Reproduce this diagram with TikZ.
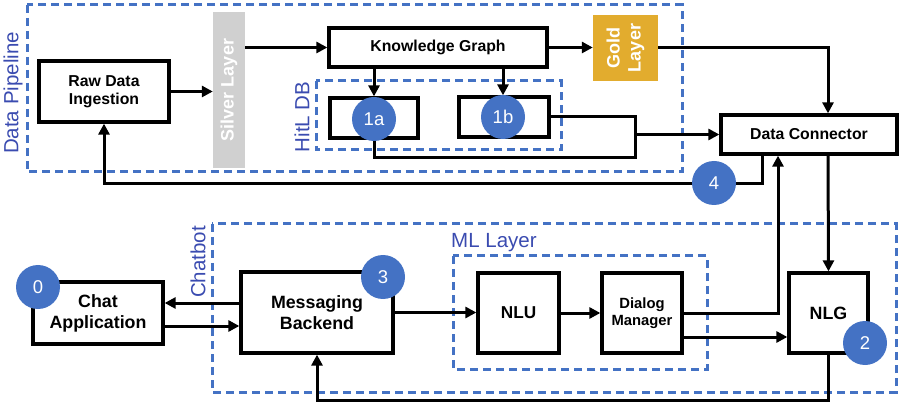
\documentclass[tikz,border=0pt]{standalone}
\usepackage{fontspec}
\setmainfont{Liberation Sans}
\usetikzlibrary{arrows.meta,calc}
\definecolor{dashblue}{HTML}{4472C4}
\definecolor{labblue}{HTML}{3A4BB0}
\definecolor{silvergray}{HTML}{D0D0D0}
\definecolor{goldc}{HTML}{E2AC2E}
\tikzset{
  box/.style={draw=black,line width=3.3pt,fill=white,align=center,font=\bfseries\fontsize{15.8}{18}\selectfont,inner sep=0pt},
  bigbox/.style={box,font=\bfseries\fontsize{17.8}{21}\selectfont},
  numc/.style={circle,fill=dashblue,text=white,minimum size=44pt,inner sep=0pt,font=\fontsize{18.5}{20}\selectfont},
  arr/.style={line width=3pt,-{Triangle[length=11pt,width=11pt]}},
  ln/.style={line width=3pt},
  grp/.style={draw=dashblue,line width=3pt,dash pattern=on 8pt off 5pt},
  grplab/.style={text=labblue,font=\fontsize{20.5}{23}\selectfont,inner sep=0pt},
  vlab/.style={rotate=90,text=white,align=center,font=\bfseries\fontsize{18}{21}\selectfont,inner sep=0pt}
}
\begin{document}
\begin{tikzpicture}[x=1pt,y=-1pt]
\useasboundingbox (0,0) rectangle (899,403);
% groups
\draw[grp] (27,5) rectangle (682,172);
\draw[grp] (316,81) rectangle (561,150);
\draw[grp] (212,224) rectangle (896,392);
\draw[grp] (453,256) rectangle (707,369);
\node[grplab,rotate=90] (lpipe) at (13,93) {Data Pipeline};
\node[grplab,rotate=90] (lhitl) at (302,117) {HitL DB};
\node[grplab,rotate=90] (lchat) at (198,262) {Chatbot};
\node[grplab,anchor=west] (lml) at (451,243) {ML Layer};
% nodes
\node[box,minimum width=130pt,minimum height=61pt] (raw) at (104,91.5) {Raw Data\\Ingestion};
\node[fill=silvergray,minimum width=32pt,minimum height=156pt,inner sep=0pt] (silver) at (229,90) {};
\node[vlab] (silvert) at (silver) {Silver Layer};
\node[box,minimum width=218pt,minimum height=39pt] (kg) at (438,47.5) {Knowledge Graph};
\node[fill=goldc,minimum width=65pt,minimum height=66pt,inner sep=0pt] (gold) at (625.5,48) {};
\node[vlab] (goldt) at (gold) {Gold\\Layer};
\node[box,minimum width=176pt,minimum height=39pt] (dc) at (809,134.5) {Data Connector};
\node[box,minimum width=88pt,minimum height=40pt] (b1a) at (374,118) {};
\node[box,minimum width=90pt,minimum height=40pt] (b1b) at (504,117) {};
\node[bigbox,minimum width=130pt,minimum height=62pt] (chat) at (98,313) {Chat\\Application};
\node[bigbox,minimum width=152pt,minimum height=81pt] (mb) at (317,312.5) {Messaging\\Backend};
\node[bigbox,font=\bfseries\fontsize{17.2}{20}\selectfont,minimum width=81pt,minimum height=80pt] (nlu) at (518.5,313) {NLU};
\node[box,font=\bfseries\fontsize{14.8}{17}\selectfont,minimum width=80pt,minimum height=80pt] (dm) at (642,313) {Dialog\\Manager};
\node[bigbox,minimum width=79pt,minimum height=80pt] (nlg) at (828.5,313) {NLG};
% junctions
\coordinate (j1) at (635,158);
\coordinate (l4) at (104,184);
\coordinate (l5) at (317,400);
% connectors
\draw[arr] (raw.east) -- (raw.east -| silver.west);
\draw[arr] (silver.east |- kg.west) -- (kg.west);
\draw[arr] (kg.east) -- (kg.east -| gold.west);
\draw[arr] (gold.east |- kg.east) -| ([xshift=19pt]dc.north);
\draw[arr] (kg.south -| b1a) -- (b1a.north);
\draw[arr] (kg.south -| 503,0) -- (b1b.north -| 503,0);
\draw[ln] (b1b.east) -| (j1) -| (b1a.south);
\draw[arr] (j1 |- dc.west) -- (dc.west);
\draw[arr] ([xshift=-47pt]dc.south) |- (l4) -- (raw.south);
\draw[arr] (dm.east) -| ([xshift=-31pt]dc.south);
\draw[arr] ([xshift=19pt]dc.south) -- (nlg.north);
\draw[arr] ([yshift=-24pt]dm.east) -- ([yshift=-24pt]dm.east -| nlg.west);
\draw[arr] ([yshift=9.5pt]mb.west) -- ([yshift=9.5pt]mb.west -| chat.east);
\draw[arr] ([yshift=-13pt]chat.east) -- ([yshift=-13pt]chat.east -| mb.west);
\draw[arr] (mb.east) -- (mb.east -| nlu.west);
\draw[arr] (nlu.east) -- (dm.west);
\draw[arr] (nlg.south) |- (l5) -- (mb.south);
% numbered circles
\node[numc] (c1a) at (374,119) {1a};
\node[numc] (c1b) at (503,117) {1b};
\node[numc] (c4) at (714,183) {4};
\node[numc] (c0) at (38,287) {0};
\node[numc] (c3) at (383,277) {3};
\node[numc] (c2) at (865,343) {2};
\end{tikzpicture}
\end{document}
